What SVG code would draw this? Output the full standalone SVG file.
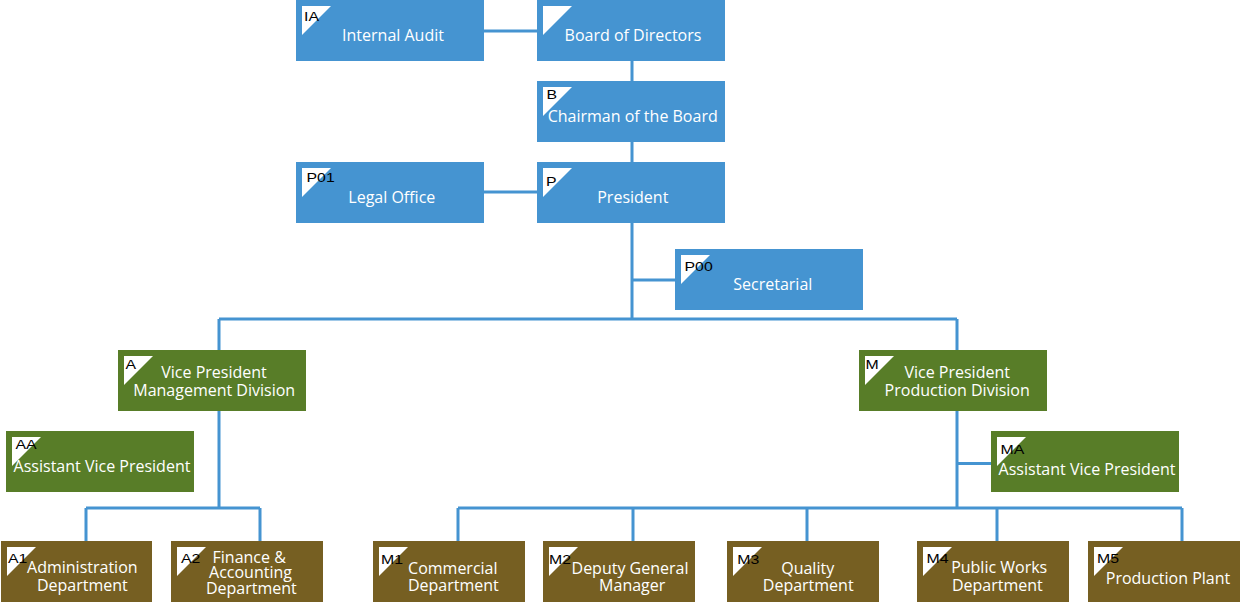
<svg xmlns="http://www.w3.org/2000/svg" width="1241" height="602" viewBox="0 0 1241 602">
<style>
.bl{fill:#4594D1}
.gr{fill:#587D28}
.br{fill:#765F22}
.tri{fill:#FFFFFF}
.t{font-family:"Open Sans","Noto Sans","DejaVu Sans",sans-serif;font-size:16px;fill:#FFFFFF;text-anchor:middle}
.l{font-family:"Liberation Sans",Arial,sans-serif;font-size:13px;fill:#000000}
.c{fill:none;stroke:#4594D1;stroke-width:3}
</style>
<rect width="1241" height="602" fill="#FFFFFF"/>
<g id="connectors">
<path class="c" d="M484,31H537M632,61V81M632,142V162M484,192H537M632,222V319M632,280H675M219,319H957M219,319V350M957,319V350"/>
<path class="c" d="M219,411V508M86,508H260M86,508V541M260,508V541"/>
<path class="c" d="M957,411V508M957,463.5H991M458,508H1182M458,508V541M633,508V541M807,508V541M997,508V541M1182,508V541"/>
</g>
<g id="IA">
<rect class="bl" x="296" y="0" width="188" height="61"/>
<polygon class="tri" points="302,6 331,6 302,35"/>
<text class="l" transform="translate(304,20.7) scale(1.22,1)">IA</text>
<text class="t" x="393" y="40.5">Internal Audit</text>
</g>
<g id="Board">
<rect class="bl" x="537" y="0" width="188" height="61"/>
<polygon class="tri" points="543,6 572,6 543,35"/>
<text class="t" x="633" y="40.5">Board of Directors</text>
</g>
<g id="B">
<rect class="bl" x="537" y="81" width="188" height="61"/>
<polygon class="tri" points="543,87 572,87 543,116"/>
<text class="l" transform="translate(546.5,99.3) scale(1.22,1)">B</text>
<text class="t" x="632.7" y="122.3">Chairman of the Board</text>
</g>
<g id="P01">
<rect class="bl" x="296" y="162" width="188" height="61"/>
<polygon class="tri" points="302,168 331,168 302,197"/>
<text class="l" transform="translate(306.5,182.3) scale(1.22,1)">P01</text>
<text class="t" x="391.8" y="202.7">Legal Office</text>
</g>
<g id="P">
<rect class="bl" x="537" y="162" width="188" height="61"/>
<polygon class="tri" points="543,168 572,168 543,197"/>
<text class="l" transform="translate(546,186) scale(1.22,1)">P</text>
<text class="t" x="632.8" y="202.7">President</text>
</g>
<g id="P00">
<rect class="bl" x="675" y="249" width="188" height="61"/>
<polygon class="tri" points="681,255 710,255 681,284"/>
<text class="l" transform="translate(684.5,270.7) scale(1.22,1)">P00</text>
<text class="t" x="772.8" y="290">Secretarial</text>
</g>
<g id="A">
<rect class="gr" x="118" y="350" width="188" height="61"/>
<polygon class="tri" points="124,356 153,356 124,385"/>
<text class="l" transform="translate(125.5,369.3) scale(1.22,1)">A</text>
<text class="t" x="214" y="377.7">Vice President</text>
<text class="t" x="214.2" y="395.7">Management Division</text>
</g>
<g id="AA">
<rect class="gr" x="6" y="431" width="188" height="61"/>
<polygon class="tri" points="12,437 41,437 12,466"/>
<text class="l" transform="translate(15.5,449.3) scale(1.22,1)">AA</text>
<text class="t" x="102" y="471.7">Assistant Vice President</text>
</g>
<g id="M">
<rect class="gr" x="859" y="350" width="188" height="61"/>
<polygon class="tri" points="865,356 894,356 865,385"/>
<text class="l" transform="translate(865.5,369.3) scale(1.22,1)">M</text>
<text class="t" x="957.2" y="377.7">Vice President</text>
<text class="t" x="957.2" y="395.7">Production Division</text>
</g>
<g id="MA">
<rect class="gr" x="991" y="431" width="188" height="61"/>
<polygon class="tri" points="997,437 1026,437 997,466"/>
<text class="l" transform="translate(1000.5,454) scale(1.22,1)">MA</text>
<text class="t" x="1087" y="475">Assistant Vice President</text>
</g>
<g id="A1">
<rect class="br" x="1" y="541" width="151" height="61"/>
<polygon class="tri" points="7,547 36,547 7,576"/>
<text class="l" transform="translate(8,562.7) scale(1.22,1)">A1</text>
<text class="t" x="82.3" y="573.3">Administration</text>
<text class="t" x="82.3" y="590.7">Department</text>
</g>
<g id="A2">
<rect class="br" x="171" y="541" width="152" height="61"/>
<polygon class="tri" points="177,547 206,547 177,576"/>
<text class="l" transform="translate(181,562.7) scale(1.22,1)">A2</text>
<text class="t" x="249.2" y="562.7">Finance &amp;</text>
<text class="t" x="250.5" y="578.3">Accounting</text>
<text class="t" x="251.3" y="594.3">Department</text>
</g>
<g id="M1">
<rect class="br" x="373" y="541" width="152" height="61"/>
<polygon class="tri" points="379,547 408,547 379,576"/>
<text class="l" transform="translate(381,563.7) scale(1.22,1)">M1</text>
<text class="t" x="452.8" y="573.8">Commercial</text>
<text class="t" x="453.3" y="591.4">Department</text>
</g>
<g id="M2">
<rect class="br" x="543" y="541" width="152" height="61"/>
<polygon class="tri" points="549,547 578,547 549,576"/>
<text class="l" transform="translate(549,563.7) scale(1.22,1)">M2</text>
<text class="t" x="630" y="573.8">Deputy General</text>
<text class="t" x="632.2" y="591.4">Manager</text>
</g>
<g id="M3">
<rect class="br" x="727" y="541" width="152" height="61"/>
<polygon class="tri" points="733,547 762,547 733,576"/>
<text class="l" transform="translate(737.3,563.7) scale(1.22,1)">M3</text>
<text class="t" x="807.7" y="573.8">Quality</text>
<text class="t" x="808.2" y="591.4">Department</text>
</g>
<g id="M4">
<rect class="br" x="917" y="541" width="152" height="61"/>
<polygon class="tri" points="923,547 952,547 923,576"/>
<text class="l" transform="translate(926.5,562.7) scale(1.22,1)">M4</text>
<text class="t" x="999.2" y="573.3">Public Works</text>
<text class="t" x="997.3" y="590.7">Department</text>
</g>
<g id="M5">
<rect class="br" x="1088" y="541" width="152" height="61"/>
<polygon class="tri" points="1094,547 1123,547 1094,576"/>
<text class="l" transform="translate(1097,562.7) scale(1.22,1)">M5</text>
<text class="t" x="1168" y="584.3">Production Plant</text>
</g>
</svg>
